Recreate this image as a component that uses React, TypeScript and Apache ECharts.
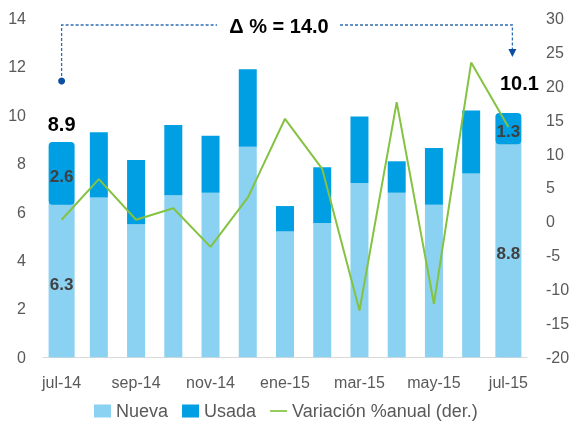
import React, { useEffect, useRef } from "react";
import * as echarts from "echarts";

const categories = ["jul-14", "ago-14", "sep-14", "oct-14", "nov-14", "dic-14", "ene-15", "feb-15", "mar-15", "abr-15", "may-15", "jun-15", "jul-15"];
const nueva = [6.3, 6.6, 5.5, 6.7, 6.8, 8.7, 5.2, 5.55, 7.2, 6.8, 6.3, 7.6, 8.8];
const usada = [2.6, 2.7, 2.65, 2.9, 2.35, 3.2, 1.05, 2.3, 2.75, 1.3, 2.35, 2.6, 1.3];
const variacion = [0.3, 6.3, 0.3, 2.0, -3.7, 3.55, 15.2, 7.8, -13.1, 17.65, -12.1, 23.5, 14.0];
const leftTicks = { min: 0, max: 14, interval: 2 };
const rightTicks = { min: -20, max: 30, interval: 5 };

const FONT = "'Liberation Sans', Arial, sans-serif";
const LIGHT = "#8BD1F1";
const DARK = "#009FE3";
const GREEN = "#84C341";
const ANN = "#2E6DB4";
const highlighted = [0, categories.length - 1];

export default function App() {
  const ref = useRef<HTMLDivElement>(null);
  useEffect(() => {
    const chart = echarts.init(ref.current!, null, { renderer: "svg" });
    const totals = nueva.map((v, i) => v + usada[i]);
    const labelFont = "bold 17px " + FONT;
    const option: any = {
      animation: false,
      grid: { left: 43, right: 49, top: 18.5, bottom: 63.7 },
      legend: {
        left: 94,
        top: 402,
        padding: 0,
        itemWidth: 17,
        itemHeight: 13,
        itemGap: 14,
        textStyle: { color: "#595959", fontSize: 18, fontFamily: FONT, lineHeight: 18 },
        data: [
          { name: "Nueva", icon: "rect" },
          { name: "Usada", icon: "rect" },
          { name: "Variación %anual (der.)", icon: "path://M0 0H20V2H0Z" },
        ],
      },
      xAxis: {
        type: "category",
        data: categories,
        axisLine: { lineStyle: { color: "#D9D9D9", width: 1 } },
        axisTick: { show: false },
        axisLabel: { interval: 1, color: "#595959", fontSize: 16, fontFamily: FONT, margin: 17 },
      },
      yAxis: [
        {
          type: "value",
          ...leftTicks,
          splitLine: { show: false },
          axisLine: { show: false },
          axisTick: { show: false },
          axisLabel: { color: "#595959", fontSize: 16, fontFamily: FONT, margin: 17 },
        },
        {
          type: "value",
          ...rightTicks,
          splitLine: { show: false },
          axisLine: { show: false },
          axisTick: { show: false },
          axisLabel: { color: "#595959", fontSize: 16, fontFamily: FONT, margin: 19 },
        },
      ],
      series: [
        {
          name: "Nueva",
          type: "bar",
          stack: "total",
          barWidth: 18,
          itemStyle: { color: LIGHT },
          data: nueva,
        },
        {
          name: "Usada",
          type: "bar",
          stack: "total",
          barWidth: 18,
          itemStyle: { color: DARK },
          data: usada,
        },
        {
          name: "destacado",
          type: "custom",
          z: 3,
          silent: true,
          data: highlighted.map((i) => [i, nueva[i], usada[i]]),
          encode: { x: 0, y: 1 },
          renderItem: (params: any, api: any) => {
            const idx = api.value(0);
            const n = api.value(1);
            const u = api.value(2);
            const base = api.coord([idx, 0]);
            const pn = api.coord([idx, n]);
            const pt = api.coord([idx, n + u]);
            const w = 26;
            const x = base[0] - w / 2;
            return {
              type: "group",
              children: [
                { type: "rect", shape: { x, y: pn[1] - 2, width: w, height: base[1] - pn[1] + 2 }, style: { fill: LIGHT } },
                { type: "rect", shape: { x, y: pt[1], width: w, height: pn[1] - pt[1], r: 4 }, style: { fill: DARK } },
                {
                  type: "text",
                  x: base[0],
                  y: (base[1] + pn[1]) / 2 + 3,
                  style: { text: n.toFixed(1), fill: "#404040", font: labelFont, align: "center", verticalAlign: "middle" },
                },
                {
                  type: "text",
                  x: base[0],
                  y: (pn[1] + pt[1]) / 2 + 3,
                  style: { text: u.toFixed(1), fill: "#404040", font: labelFont, align: "center", verticalAlign: "middle" },
                },
              ],
            };
          },
          markPoint: {
            symbol: "circle",
            symbolSize: 1,
            itemStyle: { color: "rgba(0,0,0,0)" },
            label: {
              show: true,
              position: "top",
              color: "#000",
              fontWeight: "bold",
              fontSize: 20,
              fontFamily: FONT,
              formatter: (p: any) => Number(p.value).toFixed(1),
            },
            data: [
              {
                coord: [0, totals[0]],
                value: totals[0],
                label: { distance: 7, offset: [0, 0] },
              },
              {
                coord: [categories.length - 1, totals[totals.length - 1]],
                value: totals[totals.length - 1],
                label: { distance: 19, offset: [11, 0] },
              },
            ],
          },
        },
        {
          name: "Variación %anual (der.)",
          type: "line",
          yAxisIndex: 1,
          symbol: "none",
          lineStyle: { color: GREEN, width: 2 },
          itemStyle: { color: GREEN },
          z: 5,
          data: variacion,
        },
      ],
    };
    chart.setOption(option);
    const x0 = chart.convertToPixel({ xAxisIndex: 0 }, categories[0]) as number;
    const x1 = (chart.convertToPixel({ xAxisIndex: 0 }, categories[categories.length - 1]) as number) + 4;
    const yLine = 25;
    chart.setOption({
      graphic: [
        {
          type: "polyline",
          shape: { points: [[x0, 81], [x0, yLine], [217, yLine]] },
          style: { stroke: ANN, lineWidth: 1.3, lineDash: [3, 2], fill: null },
        },
        { type: "circle", shape: { cx: x0, cy: 81, r: 3.5 }, style: { fill: "#0B4EA2" } },
        {
          type: "text",
          x: 279,
          y: 26,
          style: {
            text: "Δ % = " + variacion[variacion.length - 1].toFixed(1),
            fill: "#000",
            font: "bold 20px " + FONT,
            align: "center",
            verticalAlign: "middle",
          },
        },
        {
          type: "polyline",
          shape: { points: [[340, yLine], [x1, yLine], [x1, 50]] },
          style: { stroke: ANN, lineWidth: 1.3, lineDash: [3, 2], fill: null },
        },
        {
          type: "polygon",
          shape: { points: [[x1 - 4, 49], [x1 + 4, 49], [x1, 57]] },
          style: { fill: "#0B4EA2" },
        },
      ],
    });
    return () => chart.dispose();
  }, []);
  return <div ref={ref} style={{ position: "fixed", left: 0, top: 0, width: 576, height: 421 }} />;
}
